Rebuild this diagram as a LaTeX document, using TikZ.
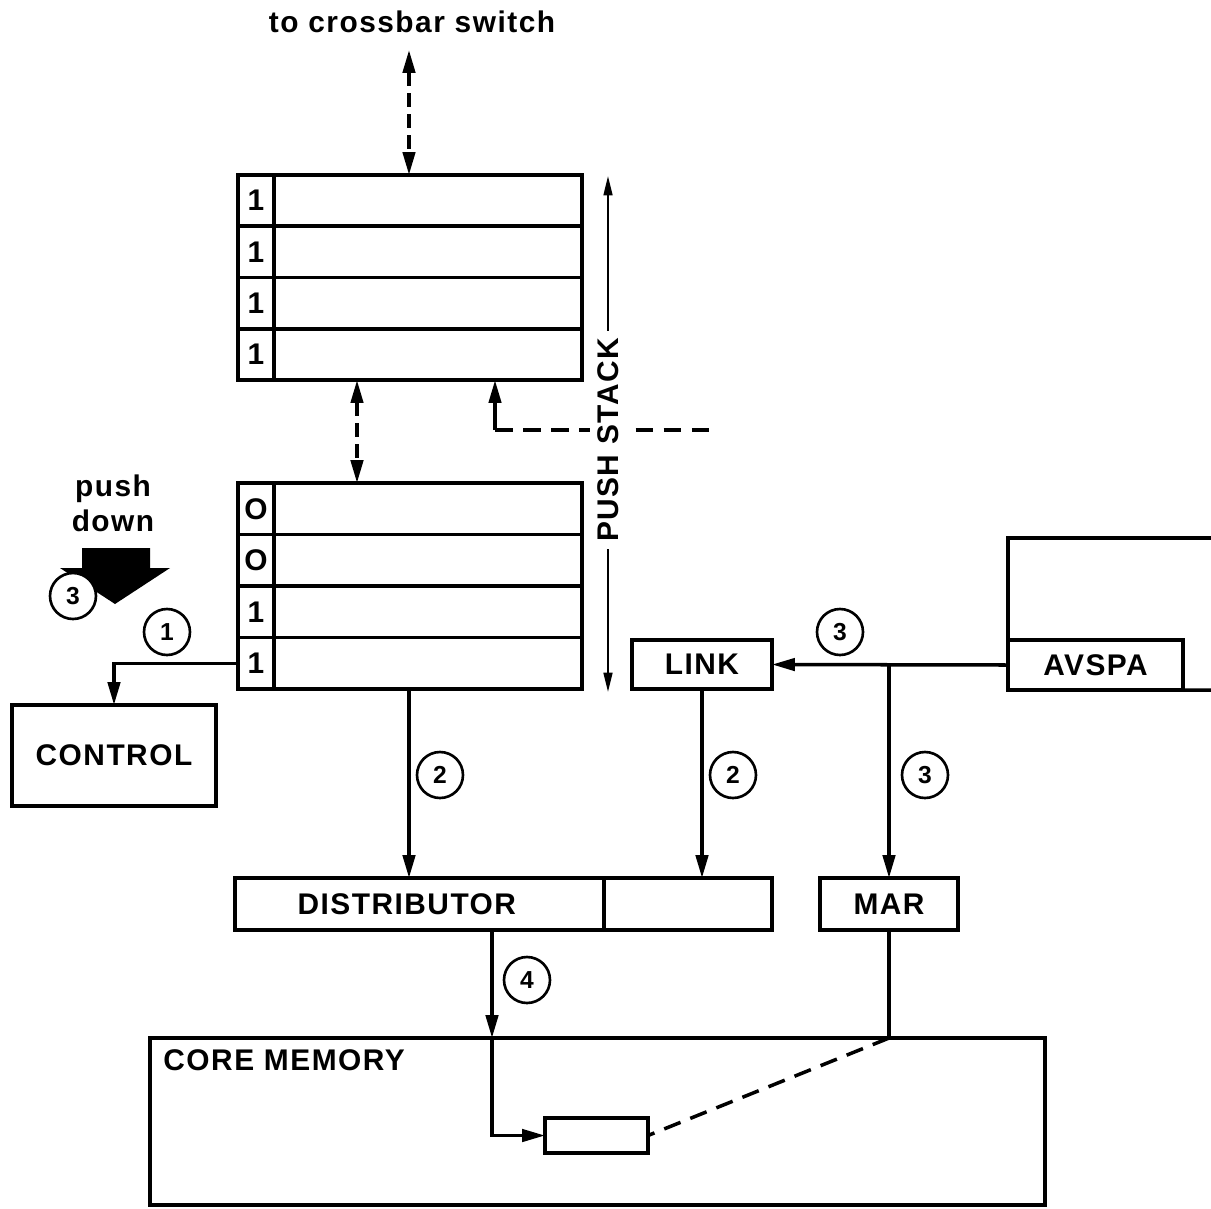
\documentclass[tikz,border=0pt]{standalone}
\usepackage{fontspec}
\setmainfont[LetterSpace=5]{Liberation Sans}
\usetikzlibrary{arrows.meta, positioning, calc}

\begin{document}
\begin{tikzpicture}[
    x=0.02cm, y=-0.02cm,
    every node/.style={font=\fontsize{17}{20}\selectfont\bfseries},
    box/.style={rectangle, draw, line width=2pt, inner sep=0pt, outer sep=0pt},
    bitcell/.style={box, minimum width=0.72cm, minimum height=1.03cm},
    wordcell/.style={box, minimum width=6.16cm, minimum height=1.03cm},
    num/.style={circle, draw, line width=1.5pt, minimum size=0.92cm, inner sep=0pt, fill=white, font=\fontsize{14}{14}\selectfont\bfseries},
    arrow/.style={-{Triangle[length=13pt, width=7pt]}, line width=2pt},
    dasharrow/.style={{Triangle[length=13pt, width=7pt]}-{Triangle[length=13pt, width=7pt]}, line width=2pt, dash pattern=on 8pt off 4pt},
    dline/.style={line width=2pt, dash pattern=on 10pt off 6pt},
    lower/.style={align=center}
]
\useasboundingbox (0,0) rectangle (1211,1208);

% upper stack
\foreach \bit [count=\i] in {1,1,1,1} {
  \node[bitcell] (ub\i) at (256, {175+51.25*(\i-0.5)}) {\bit};
  \node[wordcell, right=0pt of ub\i] (uw\i) {};
}

% lower stack
\foreach \bit [count=\i] in {O,O,1,1} {
  \node[bitcell] (lb\i) at (256, {483+51.5*(\i-0.5)}) {\bit};
  \node[wordcell, right=0pt of lb\i] (lw\i) {};
}

\node[lower] (xbarlbl) at (412,22) {to crossbar switch};
\node[lower] (pushlbl) at (113,503) {push\\down};

\node[box, minimum width=4.08cm, minimum height=2.02cm] (control) at (114,755.5) {CONTROL};
\node[box, minimum width=2.8cm, minimum height=0.98cm] (link) at (702,664.5) {LINK};
\node[box, minimum width=3.5cm, minimum height=1cm] (avspa) at (1095.5,665) {AVSPA};
\node[box, minimum width=7.38cm, minimum height=1.04cm, text width=7.08cm] (dist) at (419.5,904) {\hspace*{1.1cm}DISTRIBUTOR};
\node[box, minimum width=3.36cm, minimum height=1.04cm, right=0pt of dist] (dist2) {};
\node[box, minimum width=2.76cm, minimum height=1.04cm] (mar) at (889,904) {MAR};
\node[box, minimum width=17.9cm, minimum height=3.34cm] (core) at (597.5,1121.5) {};
\node[anchor=north west, inner sep=0pt] (corelbl) at ($(core.north west)+(13,11)$) {CORE MEMORY};
\node[box, minimum width=2.06cm, minimum height=0.7cm] (cell) at (596.5,1135.5) {};

% register around AVSPA, cut off at the right
\coordinate (regtop) at (1211,538);
\coordinate (regbot) at (1211,690);
\draw[line width=2pt] (regtop) -| (avspa.north west);
\draw[line width=2pt] (avspa.south east) -- (regbot);

% crossbar <-> upper stack
\coordinate (xbar) at (409,50);
\draw[dasharrow] (xbar) -- (xbar |- uw1.north);

% upper stack <-> lower stack
\coordinate (mid) at (357,430);
\draw[dasharrow] (mid |- uw4.south) -- (mid |- lw1.north);

% feedback into upper stack
\coordinate (fb) at (495,430);
\coordinate (fbend) at (710,430);
\draw[arrow] (fb) -- (fb |- uw4.south);
\draw[dline] (fb) -- (fbend);

% push stack extent
\coordinate (pstop) at (608,176);
\coordinate (psbot) at (608,692);
\draw[{Triangle[length=11pt, width=5pt]}-{Triangle[length=11pt, width=5pt]}, line width=1.2pt] (pstop) -- (psbot);
\node[rotate=90, fill=white, inner sep=4pt] (pslbl) at (608,440) {PUSH STACK};

% push down
\fill (82,548) -- (150,548) -- (150,568) -- (170,568) -- (115,604) -- (60,568) -- (82,568) -- cycle;
\node[num] (n3a) at (73,596) {3};

% lower stack -> CONTROL
\draw[arrow] (lb4.west) -| (control.north);
\node[num] (n1) at (167,632) {1};

% lower stack -> DISTRIBUTOR
\coordinate (dcol) at (409,780);
\draw[arrow] (dcol |- lw4.south) -- (dcol |- dist.north);
\node[num] (n2a) at (440,775) {2};

% LINK -> DISTRIBUTOR
\draw[arrow] (link.south) -- (link.south |- dist2.north);
\node[num] (n2b) at (733,775) {2};

% AVSPA -> LINK, MAR
\draw[arrow] (avspa.west) -- (link.east);
\node[num] (n3b) at (840,632) {3};
\coordinate (br) at (avspa.west -| mar.north);
\draw[arrow] (br) -- (mar.north);
\node[num] (n3c) at (925,775) {3};

% DISTRIBUTOR -> core cell
\coordinate (dc) at (492,980);
\draw[arrow] (dc |- dist.south) -- (dc |- core.north);
\draw[arrow] (dc |- core.north) |- (cell.west);
\node[num] (n4) at (527,980) {4};

% MAR -> core cell
\coordinate (mc) at (mar.south |- core.north);
\draw[line width=2pt] (mar.south) -- (mc);
\draw[dline] (mc) -- (cell.east);

\end{tikzpicture}
\end{document}
